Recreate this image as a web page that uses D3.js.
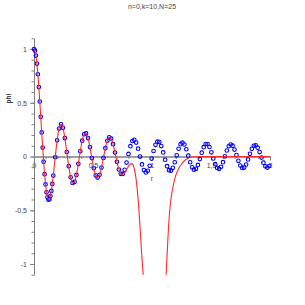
<!DOCTYPE html>
<html><head><meta charset="utf-8">
<script src="https://cdn.jsdelivr.net/npm/d3@7"></script>
<style>
html,body{margin:0;padding:0;background:#fff;}
svg{display:block;}
text{font-family:"Liberation Sans",Arial,sans-serif;}
</style>
</head><body>
<svg id="chart" width="305" height="305"></svg>
<script>
const title = "n=0,k=10,N=25";
const xLabel = "r";
const yLabel = "phi";
const xTickValues = [0, 0.5, 1, 1.5, 2];
const xTickLabels = ["0", "0,5", "1", "1,5", "2"];
const yTickValues = [-1, -0.5, 0, 0.5, 1];
const yTickLabels = ["-1", "-0,5", "0", "0,5", "1"];

// blue points (sampled values)
const blueR = [
 0, 0.0082, 0.0163, 0.0245, 0.0327, 0.0408, 0.0490, 0.0572, 0.0654, 0.0735, 0.0817,
 0.0899, 0.0980, 0.1062, 0.1144, 0.1225, 0.1307, 0.1389, 0.1471, 0.1552, 0.1634,
 0.1797, 0.1961, 0.2124, 0.2288, 0.2451, 0.2614, 0.2778, 0.2941, 0.3105, 0.3268,
 0.3431, 0.3595, 0.3758, 0.3922, 0.4085, 0.4248, 0.4412, 0.4575, 0.4739, 0.4902,
 0.5065, 0.5229, 0.5392, 0.5556, 0.5719, 0.5882, 0.6046, 0.6209, 0.6373, 0.6536,
 0.6699, 0.6863, 0.7026, 0.7190, 0.7353, 0.7516, 0.7680, 0.7843, 0.8007, 0.8170,
 0.8333, 0.8497, 0.8660, 0.8824, 0.8987, 0.9150, 0.9314, 0.9477, 0.9641, 0.9804,
 0.9967, 1.0131, 1.0294, 1.0458, 1.0621, 1.0784, 1.0948, 1.1111, 1.1275, 1.1438,
 1.1601, 1.1765, 1.1928, 1.2092, 1.2255, 1.2418, 1.2582, 1.2745, 1.2908, 1.3072,
 1.3235, 1.3399, 1.3562, 1.3725, 1.3889, 1.4052, 1.4216, 1.4379, 1.4542, 1.4706,
 1.4869, 1.5033, 1.5196, 1.5359, 1.5523, 1.5686, 1.5850, 1.6013, 1.6176, 1.6340,
 1.6503, 1.6667, 1.6830, 1.6993, 1.7157, 1.7320, 1.7484, 1.7647, 1.7810, 1.7974,
 1.8137, 1.8301, 1.8464, 1.8627, 1.8791, 1.8954, 1.9118, 1.9281, 1.9444, 1.9608,
 1.9771, 1.9935
];
const bluePhi = [
 1, 0.9844, 0.9385, 0.8642, 0.7652, 0.6459, 0.5118, 0.3690, 0.2239, 0.0827, -0.0484,
 -0.1641, -0.2601, -0.3328, -0.3801, -0.4014, -0.3971, -0.3680, -0.3205, -0.2551, -0.1776,
 -0.0068, 0.1506, 0.2601, 0.3001, 0.2663, 0.1717, 0.0419, -0.0903, -0.1939, -0.2459,
 -0.2366, -0.1712, -0.0677, 0.0477, 0.1469, 0.2069, 0.2150, 0.1711, 0.0875, -0.0142,
 -0.1093, -0.1750, -0.1964, -0.1699, -0.1033, -0.0134, 0.0773, 0.1467, 0.1789, 0.1670,
 0.1151, 0.0366, -0.0489, -0.1207, -0.1616, -0.1625, -0.1240, -0.0562, 0.0237, 0.0964,
 0.1441, 0.1560, 0.1299, 0.0729, -0.0010, -0.0734, -0.1263, -0.1479, -0.1332, -0.0864,
 -0.0194, 0.0511, 0.1083, 0.1381, 0.1339, 0.0973, 0.0375, -0.0304, -0.0900, -0.1269,
 -0.1323, -0.1056, -0.0534, 0.0109, 0.0719, 0.1143, 0.1286, 0.1114, 0.0674, 0.0074,
 -0.0536, -0.1007, -0.1228, -0.1147, -0.0788, -0.0242, 0.0358, 0.0863, 0.1153, 0.1158,
 0.0882, 0.0393, -0.0185, -0.0713, -0.1061, -0.1147, -0.0953, -0.0530, 0.0020, 0.0559,
 0.0955, 0.1116, 0.1003, 0.0647, 0.0136, -0.0402, -0.0838, -0.1065, -0.1031, -0.0746,
 -0.0281, 0.0247, 0.0711, 0.0998, 0.1038, 0.0825, 0.0412, -0.0096, -0.0578, -0.0915,
 -0.1026, -0.0886
];

// red curve
const redR = [
 0, 0.0163, 0.0327, 0.0490, 0.0654, 0.0817, 0.0980, 0.1144, 0.1225, 0.1307,
 0.1471, 0.1634, 0.1797, 0.1961, 0.2124, 0.2288, 0.2451, 0.2614, 0.2778, 0.2941,
 0.3105, 0.3268, 0.3431, 0.3595, 0.3758, 0.3922, 0.4085, 0.4248, 0.4412, 0.4575,
 0.4739, 0.4902, 0.5065, 0.5229, 0.5392, 0.5556, 0.5719, 0.5882, 0.6046, 0.6209,
 0.6373, 0.6536, 0.6699, 0.6863, 0.7026, 0.7190, 0.7353, 0.7516, 0.7680, 0.785,
 0.800, 0.815, 0.828, 0.840, 0.852, 0.864, 0.876, 0.888, 0.900, 0.912,
 0.924, 0.94, 0.98, 1.03, 1.08, 1.11, 1.122, 1.134, 1.146, 1.16,
 1.18, 1.2, 1.225, 1.25, 1.28, 1.31, 1.34, 1.4, 1.6, 1.8, 2.0
];
const redPhi = [
 1, 0.9385, 0.7652, 0.5118, 0.2239, -0.0484, -0.2601, -0.3801, -0.4014, -0.3971,
 -0.3205, -0.1776, -0.0068, 0.1506, 0.2601, 0.3001, 0.2663, 0.1717, 0.0419, -0.0903,
 -0.1939, -0.2459, -0.2366, -0.1712, -0.0677, 0.0477, 0.1469, 0.2069, 0.2150, 0.1711,
 0.0875, -0.0142, -0.1093, -0.1750, -0.1964, -0.1699, -0.1033, -0.0134, 0.0773, 0.1467,
 0.1789, 0.1670, 0.115, 0.037, -0.049, -0.118, -0.158, -0.166, -0.152, -0.122,
 -0.092, -0.072, -0.066, -0.08, -0.125, -0.2, -0.32, -0.48, -0.68, -0.9,
 -1.08, -1.35, -1.8, -2.0, -1.8, -1.35, -1.05, -0.78, -0.56, -0.4,
 -0.27, -0.18, -0.115, -0.07, -0.035, -0.015, -0.004, 0, 0, 0, 0
];

const svg = d3.select("#chart");
const x = d3.scaleLinear().domain([0, 2]).range([34, 270]);
const y = d3.scaleLinear().domain([-1.1, 1.1]).range([274.75, 38.25]);
const axisColor = "#808080";
const textColor = "#444";

svg.append("defs").append("clipPath").attr("id", "plotclip")
  .append("rect").attr("x", x(0) - 3).attr("y", y(1.1)).attr("width", x(2) - x(0) + 6).attr("height", y(-1.1) - y(1.1));

// minor ticks
const minorX = d3.range(0, 2.001, 0.1);
const minorY = d3.range(-1.1, 1.1001, 0.1);
const gxm = svg.append("g").attr("transform", `translate(0,${y(0)})`)
  .call(d3.axisBottom(x).tickValues(minorX).tickSize(2.5).tickSizeOuter(0).tickFormat(""));
const gym = svg.append("g").attr("transform", `translate(${x(0)},0)`)
  .call(d3.axisLeft(y).tickValues(minorY).tickSize(2.5).tickSizeOuter(0).tickFormat(""));

const gx = svg.append("g").attr("transform", `translate(0,${y(0)})`)
  .call(d3.axisBottom(x).tickValues(xTickValues).tickSize(4).tickSizeOuter(0)
    .tickFormat((d, i) => xTickLabels[i]));
const gy = svg.append("g").attr("transform", `translate(${x(0)},0)`)
  .call(d3.axisLeft(y).tickValues(yTickValues).tickSize(4).tickSizeOuter(0)
    .tickFormat((d, i) => yTickLabels[i]));

[gxm, gym, gx, gy].forEach(g => {
  g.selectAll("path,line").attr("stroke", axisColor).attr("stroke-width", 1);
  g.selectAll("text").attr("fill", textColor).style("font-size", "7px")
    .style("font-family", '"Liberation Sans",Arial,sans-serif');
});

// points
const pts = blueR.map((r, i) => ({r, v: bluePhi[i]}));
svg.append("g").attr("clip-path", "url(#plotclip)")
  .selectAll("circle").data(pts).enter().append("circle")
  .attr("cx", d => x(d.r)).attr("cy", d => y(d.v)).attr("r", 1.8)
  .attr("fill", "none").attr("stroke", "#0000ff").attr("stroke-width", 1.1);

// red line
const redPts = redR.map((r, i) => ({r, v: redPhi[i]}));
svg.append("g").attr("clip-path", "url(#plotclip)")
  .append("path").datum(redPts)
  .attr("d", d3.line().x(d => x(d.r)).y(d => y(d.v)).curve(d3.curveMonotoneX))
  .attr("fill", "none").attr("stroke", "#ff2a2a").attr("stroke-width", 1.1);

// title & labels
svg.append("text").attr("x", 152).attr("y", 8.5).attr("text-anchor", "middle")
  .attr("fill", textColor).style("font-size", "7px").text(title);
svg.append("text").attr("x", 152).attr("y", 180.5).attr("text-anchor", "middle")
  .attr("fill", textColor).style("font-size", "7px").text(xLabel);
svg.append("text").attr("transform", "translate(11,98.5) rotate(-90)").attr("text-anchor", "middle")
  .attr("fill", "#222").style("font-size", "6.5px").style("font-weight", "bold").text(yLabel);
</script>
</body></html>
